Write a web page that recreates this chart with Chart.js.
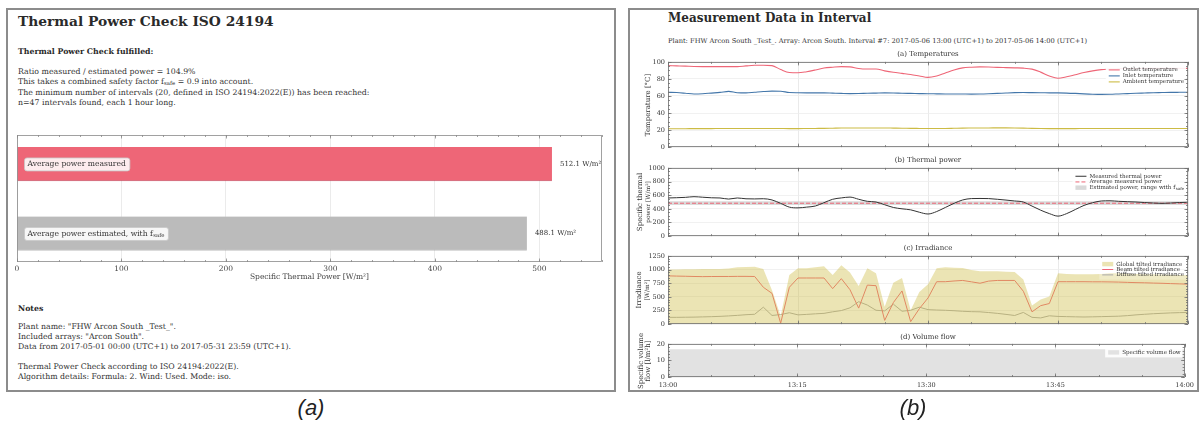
<!DOCTYPE html>
<html>
<head>
<meta charset="utf-8">
<title>Thermal Power Check ISO 24194</title>
<script src="https://cdn.jsdelivr.net/npm/chart.js@4.4.1/dist/chart.umd.min.js"></script>
<style>
  html, body { margin: 0; padding: 0; background: #fff; }
  body { position: relative; width: 1200px; height: 423px; overflow: hidden; font-family: "DejaVu Serif", serif; color: #333; }
  .panel { position: absolute; box-sizing: border-box; border: 2px solid #8c8c8c; }
  .abs { position: absolute; white-space: nowrap; margin: 0; }
  canvas { position: absolute; }
  .head { font-weight: bold; color: #2a2a2a; }
  .txt { font-size: 7.8px; line-height: 9.9px; }
  .sub { font-size: 70%; position: relative; top: 1.5px; }
  .caption { font-family: "Liberation Sans", Arial, sans-serif; font-style: italic; font-size: 22px; color: #222; transform: translateX(-50%); }
  .ptitle { font-size: 7px; line-height: 8px; transform: translate(-50%, -50%); color: #333; }
  .ytitle { font-size: 7px; line-height: 7.4px; text-align: center; color: #333; transform: translate(-50%, -50%) rotate(-90deg); }
  .ytitle small { font-size: 6px; }
</style>
</head>
<body>

<div class="panel" style="left:6px; top:8px; width:610px; height:384px"></div>
<div class="panel" style="left:628px; top:8px; width:571px; height:384px"></div>

<div class="abs head" style="left:18px; top:13px; font-size:13.8px">Thermal Power Check ISO 24194</div>
<div class="abs txt head" style="left:18px; top:47px">Thermal Power Check fulfilled:</div>
<div class="abs txt" style="left:18px; top:67px">Ratio measured / estimated power = 104.9%<br>This takes a combined safety factor f<span class="sub">safe</span> = 0.9 into account.<br>The minimum number of intervals (20, defined in ISO 24194:2022(E)) has been reached:<br>n=47 intervals found, each 1 hour long.</div>
<canvas id="barChart" width="606" height="160" style="left:8px; top:128px"></canvas>
<div class="abs txt head" style="left:18px; top:304px">Notes</div>
<div class="abs txt" style="left:18px; top:322px">Plant name: "FHW Arcon South _Test_".<br>Included arrays: "Arcon South".<br>Data from 2017-05-01 00:00 (UTC+1) to 2017-05-31 23:59 (UTC+1).<br><br>Thermal Power Check according to ISO 24194:2022(E).<br>Algorithm details: Formula: 2. Wind: Used. Mode: iso.</div>

<div class="abs head" style="left:668px; top:11px; font-size:12px">Measurement Data in Interval</div>
<div class="abs" style="left:668px; top:37px; font-size:6.7px; color:#333">Plant: FHW Arcon South _Test_. Array: Arcon South. Interval #7: 2017-05-06 13:00 (UTC+1) to 2017-05-06 14:00 (UTC+1)</div>

<canvas id="tempChart" width="568" height="99" style="left:630px; top:55px"></canvas>
<canvas id="powerChart" width="568" height="82" style="left:630px; top:161px"></canvas>
<canvas id="irrChart" width="568" height="82" style="left:630px; top:249px"></canvas>
<canvas id="flowChart" width="568" height="52" style="left:630px; top:337px"></canvas>

<div class="abs ptitle" style="left:928px; top:54px">(a) Temperatures</div>
<div class="abs ptitle" style="left:928px; top:160px">(b) Thermal power</div>
<div class="abs ptitle" style="left:928px; top:248px">(c) Irradiance</div>
<div class="abs ptitle" style="left:928px; top:337px">(d) Volume flow</div>

<div class="abs ytitle" style="left:649px; top:105px">Temperature [°C]</div>
<div class="abs ytitle" style="left:645px; top:202px">Specific thermal<br><small>power [W/m²]</small></div>
<div class="abs ytitle" style="left:644px; top:290px">Irradiance<br><small>[W/m²]</small></div>
<div class="abs ytitle" style="left:645px; top:361px">Specific volume<br>flow [l/m²h]</div>

<div class="abs caption" style="left:311px; top:395px">(a)</div>
<div class="abs caption" style="left:913px; top:395px">(b)</div>

<script>
// ---------- summary bars ----------
const barLabels = ['Average power measured', 'Average power estimated, with f'];
const barLabelSubs = ['', 'safe'];
const barValues = [512.1, 488.1];
const barColors = ['#EE6677', '#BBBBBB'];

// ---------- interval #7, one value per minute from 13:00 to 14:00 ----------
const timeTicks = ['13:00', '13:15', '13:30', '13:45', '14:00'];
const minutes = [
  0, 1, 2, 3, 4, 5, 6, 7, 8, 9, 10, 11, 12, 13, 14, 15, 16, 17, 18, 19, 20,
  21, 22, 23, 24, 25, 26, 27, 28, 29, 30, 31, 32, 33, 34, 35, 36, 37, 38, 39, 40,
  41, 42, 43, 44, 45, 46, 47, 48, 49, 50, 51, 52, 53, 54, 55, 56, 57, 58, 59, 60
];

const outletTemp = [
  95.6, 95.3, 95.0, 94.6, 94.5, 94.5, 94.5, 94.5, 94.5, 95.3, 96.0, 96.0, 95.6, 91.0, 87.5, 87.2,
  88.5, 90.5, 92.8, 93.8, 94.5, 94.2, 92.2, 91.6, 91.6, 89.5, 87.8, 86.5, 85.2, 83.5, 81.8,
  83.5, 87.0, 90.5, 93.0, 93.8, 94.2, 94.0, 93.6, 93.3, 93.0, 92.7, 91.5, 88.0, 83.5, 80.8,
  82.5, 85.0, 87.5, 89.5, 90.9, 91.5, 92.0, 92.2, 92.3, 92.4, 92.4, 92.4, 92.4, 92.4, 92.4
];
const inletTemp = [
  64.4, 64.0, 63.2, 62.3, 62.6, 63.4, 64.2, 65.4, 63.8, 63.6, 64.4, 65.2, 65.7, 65.6, 64.0, 63.8,
  63.7, 63.6, 63.6, 63.3, 63.0, 62.8, 62.9, 63.2, 63.4, 63.6, 63.5, 63.2, 63.0, 62.8, 62.6,
  62.5, 62.4, 62.4, 62.3, 62.2, 62.3, 62.6, 63.0, 63.5, 63.9, 64.0, 63.9, 63.8, 63.7, 63.6,
  63.4, 63.0, 62.5, 62.1, 61.9, 62.0, 62.4, 62.8, 63.2, 63.5, 63.8, 64.0, 64.2, 64.3, 64.4
];
const ambientTemp = [
  21.6, 21.6, 21.6, 21.7, 21.7, 21.7, 21.8, 21.8, 21.8, 21.8, 21.9, 21.9, 21.9, 21.8, 21.7, 21.7,
  21.8, 21.9, 22.0, 22.2, 22.4, 22.5, 22.5, 22.5, 22.4, 22.4, 22.3, 22.2, 22.0, 21.9, 21.8,
  21.8, 21.9, 22.1, 22.3, 22.4, 22.5, 22.5, 22.6, 22.6, 22.5, 22.3, 22.0, 21.8, 21.7, 21.7,
  21.7, 21.7, 21.8, 21.8, 21.8, 21.8, 21.8, 21.8, 21.8, 21.9, 21.9, 21.9, 21.9, 21.9, 21.9
];

const measuredPower = [
  559, 563, 568, 578, 570, 562, 559, 543, 559, 547, 545, 548, 530, 480, 425, 414,
  425, 441, 490, 540, 560, 572, 540, 510, 500, 460, 420, 400, 385, 350, 324,
  360, 420, 480, 530, 550, 552, 550, 540, 528, 515, 500, 440, 380, 330, 293,
  330, 390, 450, 490, 515, 518, 510, 505, 500, 492, 485, 480, 485, 492, 496
];
const avgMeasuredPower = 482;
const estimatedPowerRange = [455, 512];

const globalIrr = [
  1000, 1000, 1005, 1005, 1010, 1010, 1010, 1020, 1040, 1045, 1050, 1010, 620, 150, 900, 1025,
  1025, 1040, 1060, 900, 1080, 945, 700, 1025, 930, 320, 760, 845, 253, 590, 730,
  1025, 1040, 1035, 1030, 990, 970, 968, 968, 960, 957, 816, 340, 450, 507, 930,
  920, 915, 912, 915, 920, 930, 930, 925, 918, 915, 912, 910, 905, 902, 900
];
const beamIrr = [
  884, 880, 877, 873, 870, 872, 873, 873, 875, 875, 873, 675, 563, 17, 675, 845,
  845, 845, 845, 650, 833, 630, 293, 715, 704, 68, 394, 608, 45, 282, 479,
  777, 777, 790, 800, 775, 749, 788, 800, 800, 800, 602, 225, 338, 377, 777,
  777, 777, 777, 775, 775, 773, 770, 765, 760, 757, 752, 748, 742, 737, 732
];
const diffuseIrr = [
  124, 124, 126, 128, 132, 136, 142, 150, 160, 172, 180, 310, 158, 175, 208, 169,
  178, 188, 197, 225, 248, 298, 411, 349, 253, 242, 366, 236, 253, 310, 265,
  258, 253, 245, 235, 228, 225, 212, 197, 178, 158, 214, 124, 113, 152, 141,
  137, 133, 130, 133, 137, 141, 145, 155, 169, 180, 190, 198, 205, 210, 214
];

const flowMinutes = [0, 60];
const volumeFlow = [16.8, 16.8];

// ---------- shared styling ----------
const SERIF = '"DejaVu Serif", serif';
const tickFont = { family: SERIF, size: 6.5 };

const pts = (xs, ys) => xs.map((x, i) => ({ x: x, y: ys[i] }));

// Ticks pointing into the plot on every side, plus the box around it
const inwardTicks = {
  id: 'inwardTicks',
  afterDraw(chart, args, opts) {
    const { ctx, chartArea: a, scales } = chart;
    ctx.save();
    ctx.strokeStyle = opts.color || '#707070';
    ctx.lineWidth = 0.8;
    const xs = scales.x, ys = scales.y;
    const tickX = (v, len) => {
      const x = Math.round(xs.getPixelForValue(v)) + 0.5;
      ctx.beginPath();
      ctx.moveTo(x, a.bottom); ctx.lineTo(x, a.bottom - len);
      ctx.moveTo(x, a.top); ctx.lineTo(x, a.top + len);
      ctx.stroke();
    };
    const tickY = (v, len) => {
      const y = Math.round(ys.getPixelForValue(v)) + 0.5;
      ctx.beginPath();
      ctx.moveTo(a.left, y); ctx.lineTo(a.left + len, y);
      ctx.moveTo(a.right, y); ctx.lineTo(a.right - len, y);
      ctx.stroke();
    };
    if (opts.xMinor) {
      for (let v = xs.min; v <= xs.max + 1e-9; v += opts.xMinor) tickX(v, 2);
      xs.ticks.forEach(t => tickX(t.value, 3.5));
    }
    if (opts.yMinor) {
      for (let v = ys.min; v <= ys.max + 1e-9; v += opts.yMinor) tickY(v, 2);
      ys.ticks.forEach(t => tickY(t.value, 3.5));
    }
    ctx.strokeRect(Math.round(a.left) + 0.5, Math.round(a.top) + 0.5,
                   Math.round(a.width) - 1, Math.round(a.height) - 1);
    ctx.restore();
  }
};

// Small legend in the upper right corner of the plot
const cornerLegend = {
  id: 'cornerLegend',
  afterDatasetsDraw(chart, args, opts) {
    if (!opts.show) return;
    const { ctx, chartArea: a } = chart;
    const items = chart.data.datasets.filter(d => d.legendKind);
    const size = 5.6, subSize = 4;
    const fnt = size + 'px ' + SERIF, subFnt = subSize + 'px ' + SERIF;
    ctx.save();
    const widthOf = d => {
      ctx.font = fnt;
      let w = ctx.measureText(d.label).width;
      if (d.labelSub) { ctx.font = subFnt; w += ctx.measureText(d.labelSub).width + 0.5; }
      return w;
    };
    const textW = Math.max(...items.map(widthOf));
    const sw = 11, gap = 3, rowH = opts.rowH || 5.8;
    const right = a.right - 4;
    const left = right - textW - gap - sw;
    const top = a.top + (opts.top || 3);
    ctx.fillStyle = 'rgba(255,255,255,' + (opts.bgAlpha == null ? 0.85 : opts.bgAlpha) + ')';
    ctx.fillRect(left - 3, top, right - left + 5, items.length * rowH + 4);
    items.forEach((d, i) => {
      const y = top + 2 + rowH * (i + 0.5);
      if (d.legendKind === 'patch') {
        ctx.fillStyle = d.legendColor || d.backgroundColor;
        ctx.fillRect(left, y - 2.2, sw, 4.4);
      } else {
        ctx.strokeStyle = d.borderColor;
        ctx.lineWidth = d.borderWidth || 1;
        ctx.setLineDash(d.borderDash || []);
        ctx.beginPath();
        ctx.moveTo(left, y); ctx.lineTo(left + sw, y);
        ctx.stroke();
        ctx.setLineDash([]);
      }
      ctx.fillStyle = '#333';
      ctx.textBaseline = 'middle';
      ctx.font = fnt;
      ctx.fillText(d.label, left + sw + gap, y);
      if (d.labelSub) {
        const w = ctx.measureText(d.label).width;
        ctx.font = subFnt;
        ctx.fillText(d.labelSub, left + sw + gap + w + 0.5, y + 1.5);
      }
    });
    ctx.restore();
  }
};

// Labels in rounded boxes on the bars, value with unit after the bar end
const barAnnotations = {
  id: 'barAnnotations',
  afterDatasetsDraw(chart) {
    const { ctx, chartArea: a } = chart;
    const meta = chart.getDatasetMeta(0);
    ctx.save();
    meta.data.forEach((bar, i) => {
      const fnt = '7.6px ' + SERIF, subFnt = '5.4px ' + SERIF;
      ctx.font = fnt;
      const mainW = ctx.measureText(barLabels[i]).width;
      let subW = 0;
      if (barLabelSubs[i]) { ctx.font = subFnt; subW = ctx.measureText(barLabelSubs[i]).width + 0.5; }
      const bx = a.left + 7, bh = 13, bw = mainW + subW + 7;
      const by = bar.y - bh / 2;
      ctx.beginPath();
      ctx.roundRect(bx + 0.5, by + 0.5, bw, bh, 2.5);
      ctx.fillStyle = 'rgba(255,255,255,0.88)';
      ctx.fill();
      ctx.strokeStyle = '#c8c8c8';
      ctx.lineWidth = 0.8;
      ctx.stroke();
      ctx.fillStyle = '#333';
      ctx.textBaseline = 'middle';
      ctx.font = fnt;
      ctx.fillText(barLabels[i], bx + 3.5, bar.y + 0.5);
      if (barLabelSubs[i]) {
        ctx.font = subFnt;
        ctx.fillText(barLabelSubs[i], bx + 3.5 + mainW + 0.5, bar.y + 2.5);
      }
      ctx.font = '7px ' + SERIF;
      ctx.fillText(barValues[i].toFixed(1) + ' W/m\u00b2', bar.x + 8, bar.y);
    });
    ctx.restore();
  }
};

// ---------- (a) summary bar chart ----------
new Chart(document.getElementById('barChart'), {
  type: 'bar',
  data: {
    datasets: [{
      data: barValues.map((v, i) => ({ x: v, y: i })),
      backgroundColor: barColors,
      borderColor: ['rgba(190,60,80,0.7)', 'rgba(150,150,150,0.6)'],
      borderWidth: { top: 0, left: 0, right: 0, bottom: 1 },
      borderSkipped: false,
      barThickness: 34
    }]
  },
  options: {
    indexAxis: 'y',
    responsive: false,
    animation: false,
    layout: { padding: { top: 7, right: 12, bottom: 0, left: 9 } },
    scales: {
      x: {
        type: 'linear', min: 0, max: 560,
        ticks: { stepSize: 100, includeBounds: false, padding: 3, font: { family: SERIF, size: 7.5 }, color: '#444', maxRotation: 0 },
        grid: { color: '#e6e6e6', lineWidth: 0.8, drawTicks: false },
        border: { display: false },
        title: { display: true, text: 'Specific Thermal Power [W/m\u00b2]', font: { family: SERIF, size: 7.5 }, color: '#444', padding: { top: 0, bottom: 6 } },
        afterFit: s => { s.height = 26; }
      },
      y: { type: 'linear', min: -0.416, max: 1.41, reverse: true, offset: false, display: false }
    },
    plugins: {
      legend: { display: false }, tooltip: { enabled: false },
      inwardTicks: { xMinor: 20, color: '#8a8a8a' }
    }
  },
  plugins: [inwardTicks, barAnnotations]
});

// ---------- (b) interval plots ----------
function timeScale(showLabels) {
  return {
    type: 'linear', min: 0, max: 60,
    ticks: { stepSize: 15, display: showLabels, padding: 4, font: tickFont, color: '#333', maxRotation: 0,
             callback: v => timeTicks[v / 15] },
    grid: { color: '#e4e4e4', lineWidth: 0.8, drawTicks: false },
    border: { display: false },
    afterFit: s => { s.height = showLabels ? 12 : 0; }
  };
}

function valueScale(max, step) {
  return {
    min: 0, max: max,
    ticks: { stepSize: step, padding: 3, font: tickFont, color: '#333', callback: v => String(v) },
    grid: { color: '#ededed', lineWidth: 0.8, drawTicks: false },
    border: { display: false },
    afterFit: s => { s.width = 38; }
  };
}

function intervalChart(id, datasets, yScale, showTime, legendOpts, yMinor) {
  return new Chart(document.getElementById(id), {
    type: 'line',
    data: { datasets: datasets },
    options: {
      responsive: false,
      animation: false,
      parsing: false,
      layout: { padding: { top: 4, right: 10, bottom: showTime ? 0 : 4, left: 0 } },
      elements: { point: { radius: 0 }, line: { borderWidth: 1 } },
      scales: { x: timeScale(showTime), y: yScale },
      plugins: {
        legend: { display: false }, tooltip: { enabled: false },
        inwardTicks: { xMinor: 5, yMinor: yMinor },
        cornerLegend: Object.assign({ show: true }, legendOpts)
      }
    },
    plugins: [inwardTicks, cornerLegend]
  });
}

intervalChart('tempChart', [
  { label: 'Outlet temperature', legendKind: 'line', data: pts(minutes, outletTemp), borderColor: '#EE6677', borderWidth: 1.1, cubicInterpolationMode: 'monotone' },
  { label: 'Inlet temperature', legendKind: 'line', data: pts(minutes, inletTemp), borderColor: '#4477AA', borderWidth: 1.1, cubicInterpolationMode: 'monotone' },
  { label: 'Ambient temperature', legendKind: 'line', data: pts(minutes, ambientTemp), borderColor: '#CCBB44', borderWidth: 1.1, cubicInterpolationMode: 'monotone' }
], valueScale(100, 20), false, { top: 3, rowH: 6, bgAlpha: 0.9 }, 5);

intervalChart('powerChart', [
  { label: 'Measured thermal power', legendKind: 'line', data: pts(minutes, measuredPower), borderColor: '#333333', borderWidth: 1, cubicInterpolationMode: 'monotone' },
  { label: 'Average measured power', legendKind: 'line', data: pts(flowMinutes, [avgMeasuredPower, avgMeasuredPower]), borderColor: '#EE6677', borderWidth: 1, borderDash: [4, 2] },
  { label: 'Estimated power, range with f', labelSub: 'safe', legendKind: 'patch', legendColor: '#d9d9d9',
    data: pts(flowMinutes, [estimatedPowerRange[1], estimatedPowerRange[1]]), borderWidth: 0, fill: '+1', backgroundColor: 'rgba(187,187,187,0.55)' },
  { label: 'estimate lower', data: pts(flowMinutes, [estimatedPowerRange[0], estimatedPowerRange[0]]), borderWidth: 0 }
], valueScale(1000, 200), false, { top: 3.5, rowH: 5.7, bgAlpha: 0.8 }, 50);

intervalChart('irrChart', [
  { label: 'Global tilted irradiance', legendKind: 'patch', data: pts(minutes, globalIrr), borderWidth: 0, fill: 'origin', backgroundColor: 'rgba(204,187,68,0.4)' },
  { label: 'Beam tilted irradiance', legendKind: 'line', data: pts(minutes, beamIrr), borderColor: '#EE6677', borderWidth: 1 },
  { label: 'Diffuse tilted irradiance', legendKind: 'line', data: pts(minutes, diffuseIrr), borderColor: '#AAAAAA', borderWidth: 1 }
], valueScale(1250, 250), false, { top: 3.5, rowH: 5.4, bgAlpha: 0.25 }, 50);

intervalChart('flowChart', [
  { label: 'Specific volume flow', legendKind: 'patch', data: pts(flowMinutes, volumeFlow), borderWidth: 0, fill: 'origin', backgroundColor: '#e2e2e2' }
], valueScale(20, 10), true, { top: 3.5, rowH: 6, bgAlpha: 0.9 }, 2);
</script>
</body>
</html>
